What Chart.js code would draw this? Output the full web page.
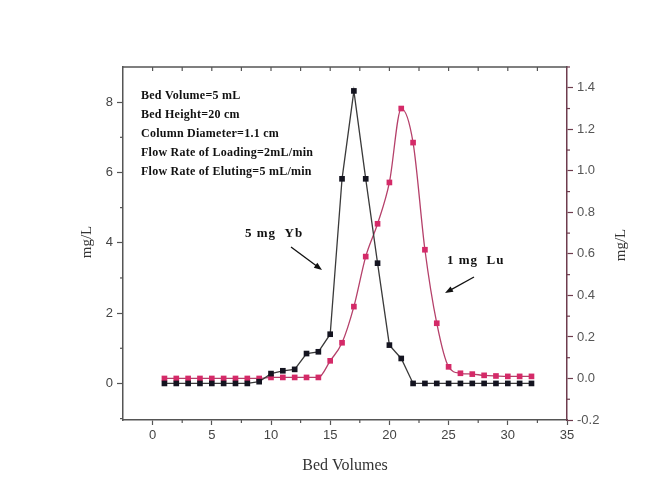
<!DOCTYPE html>
<html>
<head>
<meta charset="utf-8">
<script src="https://cdn.jsdelivr.net/npm/chart.js@4/dist/chart.umd.min.js"></script>
<style>
  html, body { margin: 0; padding: 0; background: #fff; }
</style>
</head>
<body>
<canvas id="myChart" width="651" height="495"></canvas>
<script>
// bed volumes (x) and the two elution curves
var bedVolumes = [1, 2, 3, 4, 5, 6, 7, 8, 9, 10, 11, 12, 13, 14, 15, 16,
                  17, 18, 19, 20, 21, 22, 23, 24, 25, 26, 27, 28, 29, 30, 31, 32];
var ybValues = [0, 0, 0, 0, 0, 0, 0, 0, 0.05, 0.28, 0.36, 0.40, 0.85, 0.90, 1.40, 5.82,
                8.32, 5.82, 3.42, 1.09, 0.71, 0, 0, 0, 0, 0, 0, 0, 0, 0, 0, 0];
var luValues = [0, 0, 0, 0, 0, 0, 0, 0, 0, 0.005, 0.005, 0.005, 0.005, 0.005, 0.085, 0.172,
                0.346, 0.587, 0.745, 0.944, 1.30, 1.136, 0.62, 0.266, 0.056, 0.025, 0.021, 0.015, 0.012, 0.01, 0.01, 0.01];

var xTicks = [0, 5, 10, 15, 20, 25, 30, 35];
var leftTicks = [0, 2, 4, 6, 8];
var rightTicks = [-0.2, 0, 0.2, 0.4, 0.6, 0.8, 1.0, 1.2, 1.4];

var notes = [
  "Bed Volume=5 mL",
  "Bed Height=20 cm",
  "Column Diameter=1.1 cm",
  "Flow Rate of Loading=2mL/min",
  "Flow Rate of Eluting=5 mL/min"
];

var tickFont = { family: "Liberation Sans, Arial, sans-serif", size: 13 };
var axisGray = "#555";
var axisRed = "#6e3c4e";

function arrow(ctx, x1, y1, x2, y2) {
  var a = Math.atan2(y2 - y1, x2 - x1);
  ctx.beginPath();
  ctx.moveTo(x1, y1);
  ctx.lineTo(x2 - 5 * Math.cos(a), y2 - 5 * Math.sin(a));
  ctx.stroke();
  ctx.beginPath();
  ctx.moveTo(x2, y2);
  ctx.lineTo(x2 - 8 * Math.cos(a) + 3 * Math.sin(a), y2 - 8 * Math.sin(a) - 3 * Math.cos(a));
  ctx.lineTo(x2 - 8 * Math.cos(a) - 3 * Math.sin(a), y2 - 8 * Math.sin(a) + 3 * Math.cos(a));
  ctx.closePath();
  ctx.fill();
}

var extras = {
  id: "extras",
  afterDraw: function (chart) {
    var ctx = chart.ctx;
    var area = chart.chartArea;
    var xs = chart.scales.x, yl = chart.scales.y, yr = chart.scales.y2;
    var v, p;
    ctx.save();

    // top frame with inward ticks
    ctx.strokeStyle = axisGray;
    ctx.lineWidth = 1.5;
    ctx.beginPath();
    ctx.moveTo(area.left, area.top);
    ctx.lineTo(area.right, area.top);
    ctx.stroke();
    ctx.lineWidth = 1.2;
    for (v = 0; v < 35; v += 2.5) {
      p = xs.getPixelForValue(v);
      ctx.beginPath();
      ctx.moveTo(p, area.top);
      ctx.lineTo(p, area.top + 4);
      ctx.stroke();
    }
    // minor ticks bottom
    for (v = 2.5; v < 35; v += 5) {
      p = xs.getPixelForValue(v);
      ctx.beginPath();
      ctx.moveTo(p, area.bottom);
      ctx.lineTo(p, area.bottom + 3);
      ctx.stroke();
    }
    // minor ticks left
    for (v = -1; v < 9; v += 2) {
      p = yl.getPixelForValue(v);
      ctx.beginPath();
      ctx.moveTo(area.left, p);
      ctx.lineTo(area.left - 3, p);
      ctx.stroke();
    }
    // minor ticks right
    ctx.strokeStyle = axisRed;
    for (v = -0.1; v < 1.5; v += 0.2) {
      p = yr.getPixelForValue(v);
      ctx.beginPath();
      ctx.moveTo(area.right, p);
      ctx.lineTo(area.right + 3, p);
      ctx.stroke();
    }

    // axis titles
    ctx.fillStyle = "#333";
    ctx.font = "16px 'Liberation Serif', 'Times New Roman', serif";
    ctx.textAlign = "center";
    ctx.textBaseline = "middle";
    ctx.fillText("Bed Volumes", (area.left + area.right) / 2, 466);
    ctx.font = "15px 'Liberation Serif', 'Times New Roman', serif";
    [[87, 242], [621, 245]].forEach(function (c) {
      ctx.save();
      ctx.translate(c[0], c[1]);
      ctx.rotate(-Math.PI / 2);
      ctx.fillText("mg/L", 0, 0);
      ctx.restore();
    });

    // conditions block
    ctx.fillStyle = "#111";
    ctx.textAlign = "left";
    ctx.font = "bold 12px 'Liberation Serif', 'Times New Roman', serif";
    ctx.letterSpacing = "0.25px";
    notes.forEach(function (t, i) {
      ctx.fillText(t, 141, 96 + i * 19);
    });

    // peak labels and arrows
    ctx.font = "bold 13px 'Liberation Serif', 'Times New Roman', serif";
    ctx.letterSpacing = "1px";
    ctx.fillText("5 mg  Yb", 245, 234);
    ctx.fillText("1 mg  Lu", 447, 261);
    ctx.letterSpacing = "0px";
    ctx.strokeStyle = "#111";
    ctx.fillStyle = "#111";
    ctx.lineWidth = 1.3;
    arrow(ctx, 291, 247, 322, 270);
    arrow(ctx, 474, 277, 445, 293);

    ctx.restore();
  }
};

new Chart("myChart", {
  type: "line",
  data: {
    labels: bedVolumes,
    datasets: [{
      label: "5 mg Yb",
      data: bedVolumes.map(function (x, i) { return { x: x, y: ybValues[i] }; }),
      yAxisID: "y",
      borderColor: "#3a3a3a",
      borderWidth: 1.3,
      backgroundColor: "#141420",
      pointStyle: "rect",
      pointRadius: 4,
      pointBorderWidth: 0,
      tension: 0
    }, {
      label: "1 mg Lu",
      data: bedVolumes.map(function (x, i) { return { x: x, y: luValues[i] }; }),
      yAxisID: "y2",
      borderColor: "#b5406a",
      borderWidth: 1.3,
      backgroundColor: "#d42a68",
      pointStyle: "rect",
      pointRadius: 4,
      pointBorderWidth: 0,
      cubicInterpolationMode: "monotone"
    }]
  },
  options: {
    responsive: false,
    animation: false,
    layout: { padding: { top: 67, left: 0, right: 0, bottom: 0 } },
    plugins: {
      legend: { display: false },
      tooltip: { enabled: false }
    },
    scales: {
      x: {
        type: "linear",
        position: "bottom",
        min: -2.5,
        max: 35,
        afterBuildTicks: function (s) { s.ticks = xTicks.map(function (v) { return { value: v }; }); },
        afterFit: function (s) { s.height = 75; },
        grid: { drawOnChartArea: false, tickLength: 5, color: axisGray, tickWidth: 1.2 },
        border: { color: axisGray, width: 1.5 },
        ticks: { font: tickFont, color: "#444", padding: 3, maxRotation: 0 }
      },
      y: {
        position: "left",
        min: -1.04,
        max: 9,
        afterBuildTicks: function (s) { s.ticks = leftTicks.map(function (v) { return { value: v }; }); },
        afterFit: function (s) { s.width = 123; },
        grid: { drawOnChartArea: false, tickLength: 6, color: axisGray, tickWidth: 1.2 },
        border: { color: axisGray, width: 1.5 },
        ticks: { font: tickFont, color: "#444", padding: 4 }
      },
      y2: {
        position: "right",
        min: -0.2,
        max: 1.5,
        afterBuildTicks: function (s) { s.ticks = rightTicks.map(function (v) { return { value: v }; }); },
        afterFit: function (s) { s.width = 84; },
        grid: { drawOnChartArea: false, tickLength: 6, color: axisRed, tickWidth: 1.2 },
        border: { color: axisRed, width: 1.5 },
        ticks: {
          font: tickFont,
          color: "#555",
          padding: 4,
          callback: function (v) { return v.toFixed(1); }
        }
      }
    }
  },
  plugins: [extras]
});
</script>
</body>
</html>
